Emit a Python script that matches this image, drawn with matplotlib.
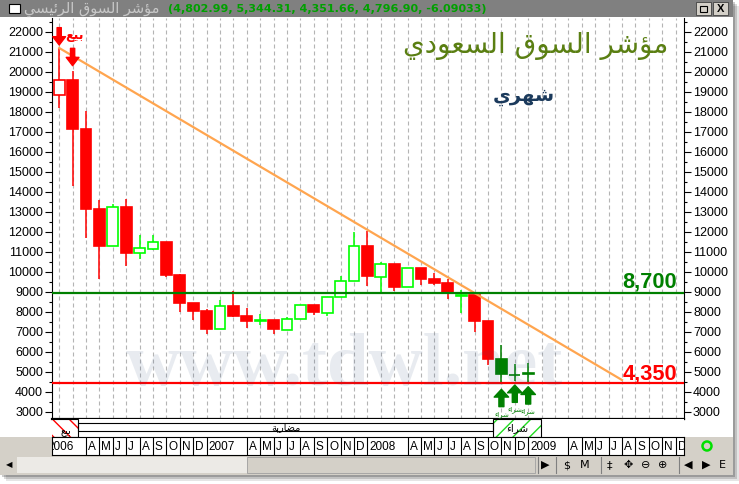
import matplotlib
matplotlib.use('Agg')
import matplotlib.pyplot as plt
import numpy as np
from matplotlib.patches import Rectangle, Circle
from matplotlib.ticker import MultipleLocator
from matplotlib import transforms

plt.rcParams['font.family'] = ['Liberation Sans', 'DejaVu Sans']
plt.rcParams['hatch.linewidth'] = 1.0

# monthly candles, Feb 2006 .. Jan 2009 (index 0 = Jan 2006)
month_idx = np.arange(1, 37)
opens = [18845, 19585, 17150, 13135, 11270, 13235, 10920, 11150, 11485, 9835,
         8435, 8035, 7120, 8285, 7770, 7540, 7585, 7085, 7635, 8320,
         7935, 8720, 9520, 11300, 9750, 10385, 9220, 10185, 9635, 9435,
         8800, 8835, 7535, 5650, 4840, 4910]
highs = [21185, 20035, 18050, 13585, 13400, 13635, 11835, 11850, 11485, 9885,
         8450, 8120, 8585, 9050, 8170, 7885, 7600, 7720, 8320, 8330,
         8720, 9785, 11970, 12035, 10470, 10400, 10170, 10200, 9950, 9635,
         9085, 8850, 7535, 6335, 5370, 5420]
lows = [18185, 14300, 11700, 9620, 11270, 10285, 10635, 11100, 9750, 8000,
        7585, 6885, 7120, 7720, 7200, 7335, 6900, 7085, 7635, 7850,
        7800, 8720, 9520, 9300, 8920, 9050, 9220, 9335, 9350, 8620,
        7920, 7000, 5350, 4370, 4550, 4500]
closes = [19585, 17150, 13135, 11300, 13220, 10950, 11170, 11485, 9850, 8450,
          8050, 7150, 8270, 7800, 7550, 7600, 7120, 7620, 8320, 7970,
          8720, 9520, 11270, 9800, 10385, 9250, 10170, 9650, 9450, 8920,
          8850, 7550, 5650, 4885, 4860, 4930]

trend_x = [1, 43]
trend_y = [21185, 4585]
resist_level, resist_label = 8920, '8,700'
support_level, support_label = 4450, '4,350'

sell_zone = (-1.0, 2.43)
spec_zone = (2.43, 33.39)
buy_zone = (33.39, 36.93)
sell_arrow_x = [1, 2]
sell_arrow_y = [21335, 20300]
buy_arrow_x = [34, 35, 36]
buy_arrow_y = [4120, 4335, 4250]

years = [2006, 2007, 2008, 2009]
month_letters = ['J', 'F', 'M', 'A', 'M', 'J', 'J', 'A', 'S', 'O', 'N', 'D']
date_labels = []
for yr in years:
    date_labels += [str(yr), '', ''] + month_letters[3:]

title_values = '(4,802.99, 5,344.31, 4,351.66, 4,796.90, -6.09033)'

# --- tiny arabic shaper (presentation forms + RTL) ---
FORMS = {
    '\u0621': ('\uFE80', None, None, None),
    '\u0624': ('\uFE85', '\uFE86', None, None),
    '\u0626': ('\uFE89', '\uFE8A', '\uFE8B', '\uFE8C'),
    '\u0627': ('\uFE8D', '\uFE8E', None, None),
    '\u0628': ('\uFE8F', '\uFE90', '\uFE91', '\uFE92'),
    '\u0629': ('\uFE93', '\uFE94', None, None),
    '\u062F': ('\uFEA9', '\uFEAA', None, None),
    '\u0631': ('\uFEAD', '\uFEAE', None, None),
    '\u0633': ('\uFEB1', '\uFEB2', '\uFEB3', '\uFEB4'),
    '\u0634': ('\uFEB5', '\uFEB6', '\uFEB7', '\uFEB8'),
    '\u0636': ('\uFEBD', '\uFEBE', '\uFEBF', '\uFEC0'),
    '\u0639': ('\uFEC9', '\uFECA', '\uFECB', '\uFECC'),
    '\u0642': ('\uFED5', '\uFED6', '\uFED7', '\uFED8'),
    '\u0644': ('\uFEDD', '\uFEDE', '\uFEDF', '\uFEE0'),
    '\u0645': ('\uFEE1', '\uFEE2', '\uFEE3', '\uFEE4'),
    '\u0647': ('\uFEE9', '\uFEEA', '\uFEEB', '\uFEEC'),
    '\u0648': ('\uFEED', '\uFEEE', None, None),
    '\u064A': ('\uFEF1', '\uFEF2', '\uFEF3', '\uFEF4'),
}


def ar(s):
    out = []
    for k, ch in enumerate(s):
        if ch not in FORMS:
            out.append(ch)
            continue
        prev = s[k - 1] if k > 0 else ''
        nxt = s[k + 1] if k + 1 < len(s) else ''
        f = FORMS[ch]
        jp = prev in FORMS and FORMS[prev][2] is not None
        jn = f[2] is not None and nxt in FORMS and FORMS[nxt][1] is not None
        if jp and jn:
            g = f[3]
        elif jp:
            g = f[1] or f[0]
        elif jn:
            g = f[2]
        else:
            g = f[0]
        out.append(g)
    return ''.join(reversed(out))


W, H = 739, 484
fig = plt.figure(figsize=(W / 100, H / 100), dpi=100)


def rect(x0, y0, x1, y1):
    return [x0 / W, 1 - y1 / H, (x1 - x0) / W, (y1 - y0) / H]


# background: window, shadow, gray rows
bg = fig.add_axes([0, 0, 1, 1], zorder=-1)
bg.set_xlim(0, W)
bg.set_ylim(H, 0)
bg.axis('off')
for off, a in [(6, 0.10), (4, 0.15), (2, 0.2)]:
    bg.add_patch(Rectangle((off, off), 733, 475, color='black', alpha=a, lw=0))
bg.add_patch(Rectangle((0, 0), 733, 475, color='white', lw=0))
bg.add_patch(Rectangle((0, 437), 52, 18, color='#D4D0C8', lw=0))
bg.add_patch(Rectangle((684, 437), 49, 18, color='#D4D0C8', lw=0))
bg.add_patch(Rectangle((0, 455), 733, 20, color='#D4D0C8', lw=0))

# main price axes
ax = fig.add_axes(rect(52, 18, 684, 419))
ax.set_xticks(np.arange(0, 48))
ax.set_yticks(np.arange(3000, 22001, 1000))
ax.set_xlim(0.463, 47.627)
ax.set_ylim(2635, 22685)
ax.tick_params(axis='x', bottom=False, labelbottom=False)
ax.grid(axis='x', color='#B4B4B4', linestyle=(0, (3.6, 2.7)), linewidth=0.8)
ax.yaxis.set_minor_locator(MultipleLocator(500))
ax.tick_params(axis='y', which='both', left=True, right=True,
               labelleft=True, labelright=True, direction='out',
               labelsize=9, pad=1.5, width=0.8)
ax.tick_params(axis='y', which='major', length=5)
ax.tick_params(axis='y', which='minor', length=2.5)
ax.spines['top'].set_visible(False)
ax.spines['bottom'].set_linewidth(1.6)

RED, GREEN, DKGREEN = '#FF0000', '#00FF00', '#008000'
bw = 0.82
for x, o, h, l, c in zip(month_idx, opens, highs, lows, closes):
    if sell_zone[0] < x < sell_zone[1]:
        col = RED
    elif buy_zone[0] < x < buy_zone[1]:
        col = DKGREEN
    else:
        col = RED if c < o else GREEN
    lo, hi = min(o, c), max(o, c)
    ax.vlines(x, hi, h, color=col, lw=1.1, zorder=2)
    ax.vlines(x, l, lo, color=col, lw=1.1, zorder=2)
    ax.add_patch(Rectangle((x - bw / 2, lo), bw, hi - lo,
                           facecolor=col if c < o else 'white',
                           edgecolor=col, lw=1.2, zorder=2))

ax.plot(trend_x, trend_y, color='#FFA54F', lw=1.6, zorder=3)
ax.axhline(resist_level, color=DKGREEN, lw=1.6, zorder=3)
ax.axhline(support_level, color=RED, lw=1.6, zorder=3)
ax.annotate(resist_label, (1, resist_level), xycoords=('axes fraction', 'data'),
            xytext=(-5, 4.3), textcoords='offset points', ha='right', va='baseline',
            color=DKGREEN, fontsize=15.7, fontweight='bold', zorder=4)
ax.annotate(support_label, (1, support_level), xycoords=('axes fraction', 'data'),
            xytext=(-5, 2.4), textcoords='offset points', ha='right', va='baseline',
            color=RED, fontsize=15.7, fontweight='bold', zorder=4)

for x, y in zip(sell_arrow_x, sell_arrow_y):
    ax.annotate('', xy=(x, y), xytext=(0, 12.5), textcoords='offset points',
                arrowprops=dict(arrowstyle='simple,head_length=0.75,head_width=1.15,tail_width=0.38',
                                color=RED, mutation_scale=8, shrinkA=0, shrinkB=0), zorder=5)
ax.annotate(ar('بيع'), xy=(sell_arrow_x[0], sell_arrow_y[0]), xytext=(10.7, 6.5),
            textcoords='offset points', ha='center', va='center', color=RED,
            fontsize=9, fontweight='bold', family='DejaVu Sans', zorder=5)
for x, y in zip(buy_arrow_x, buy_arrow_y):
    ax.annotate('', xy=(x, y), xytext=(0, -12.5), textcoords='offset points',
                arrowprops=dict(arrowstyle='simple,head_length=0.7,head_width=1.3,tail_width=0.45',
                                color=DKGREEN, mutation_scale=8, shrinkA=0, shrinkB=0), zorder=5)
    ax.annotate(ar('شراء'), xy=(x, y), xytext=(0, -18), textcoords='offset points',
                ha='center', va='center', color=DKGREEN, fontsize=5,
                family='DejaVu Sans', zorder=5, annotation_clip=False, clip_on=True)

ax.text(0.462, 0.085, 'www.tdwl.net', transform=ax.transAxes, ha='center',
        va='baseline', fontsize=54, fontweight='bold', family='Liberation Serif',
        color='#2F4F7F', alpha=0.11, zorder=6)

fig.text(536 / W, 1 - 46 / H, ar('مؤشر السوق السعودي'), ha='center', va='center',
         fontsize=20, color='#5A7F12', family='DejaVu Sans')
fig.text(524 / W, 1 - 96 / H, ar('شهري'), ha='center', va='center',
         fontsize=14, color='#1B3A5C', fontweight='bold', family='DejaVu Sans')

# signal strip
ax_strip = fig.add_axes(rect(52, 419, 684, 437), sharex=ax)
ax_strip.set_ylim(0, 1)
ax_strip.tick_params(bottom=False, labelbottom=False, left=False, labelleft=False)
for s in ax_strip.spines.values():
    s.set_visible(False)
ax_strip.add_patch(Rectangle((sell_zone[0], 0), sell_zone[1] - sell_zone[0], 1,
                             fill=False, hatch='\\\\', edgecolor=RED, lw=0))
ax_strip.add_patch(Rectangle((sell_zone[0], 0), sell_zone[1] - sell_zone[0], 1,
                             fill=False, edgecolor='black', lw=0.8))
ax_strip.text(1.5, 0.3, ar('بيع'), ha='center', va='center', fontsize=7,
              family='DejaVu Sans', clip_on=True)
ax_strip.add_patch(Rectangle((spec_zone[0], 0.35), spec_zone[1] - spec_zone[0], 0.41,
                             fill=False, edgecolor='black', lw=0.8))
ax_strip.text(sum(spec_zone) / 2, 0.55, ar('مضاربة'), ha='center', va='center',
              fontsize=7, family='DejaVu Sans')
ax_strip.add_patch(Rectangle((buy_zone[0], 0), buy_zone[1] - buy_zone[0], 1,
                             fill=False, hatch='//', edgecolor='#22DD22', lw=0))
ax_strip.add_patch(Rectangle((buy_zone[0], 0), buy_zone[1] - buy_zone[0], 1,
                             fill=False, edgecolor='black', lw=0.8))
ax_strip.text(sum(buy_zone) / 2, 0.5, ar('شراء'), ha='center', va='center',
              fontsize=7.5, family='DejaVu Sans')

# date row
ax_date = fig.add_axes(rect(52, 437, 684, 455), sharex=ax)
ax_date.set_ylim(0, 1)
ax_date.tick_params(bottom=False, labelbottom=False, left=False, labelleft=False)
for s in ax_date.spines.values():
    s.set_linewidth(0.8)
lab_tr = transforms.offset_copy(ax_date.transData, fig=fig, x=2, y=0, units='dots')
for i, lab in enumerate(date_labels):
    if lab:
        ax_date.vlines(i, 0, 1, color='black', lw=0.8)
        ax_date.text(i, 0.47, lab, transform=lab_tr, ha='left', va='center',
                     fontsize=8.5, clip_on=True)

# window chrome on top
fg = fig.add_axes([0, 0, 1, 1], zorder=5)
fg.set_xlim(0, W)
fg.set_ylim(H, 0)
fg.axis('off')
fg.add_patch(Rectangle((0, 0), 733, 17, color='#808080', lw=0))
fg.add_patch(Rectangle((9, 4), 11, 9, facecolor='white', edgecolor='black', lw=0.8))
fg.text(92, 9, ar('مؤشر السوق الرئيسي'), ha='center', va='center', fontsize=10.5,
        color='#C8C8C8', family='DejaVu Sans')
fg.text(168, 9.5, title_values, ha='left', va='center', fontsize=8,
        fontweight='bold', color='#00A000', family='DejaVu Sans')
for bx in (696, 713):
    fg.add_patch(Rectangle((bx, 2), 15, 13, facecolor='#D4D0C8', edgecolor='#404040', lw=0.6))
fg.add_patch(Rectangle((700, 6), 7, 6, fill=False, edgecolor='black', lw=0.8))
fg.text(720.5, 9, 'X', ha='center', va='center', fontsize=8, fontweight='bold')

fg.add_patch(Rectangle((17, 457), 230, 16, color='#ECEAE6', lw=0))
fg.add_patch(Rectangle((247, 457), 288, 16, facecolor='#D4D0C8', edgecolor='#A0A0A0', lw=0.6))
fg.text(9, 465, '\u25C0', ha='center', va='center', fontsize=6, family='DejaVu Sans')
for sx in (538, 556, 601, 679):
    fg.plot([sx, sx], [457, 473], color='#808080', lw=0.8)
for gx, g in [(545, '\u25B6'), (567, '$'), (585, 'M'), (609, '\u2021'),
              (628, '\u2725'), (646, '\u2296'), (663, '\u2295'),
              (688, '\u25C0'), (706, '\u25B6'), (722, 'E')]:
    fg.text(gx, 465, g, ha='center', va='center', fontsize=8, family='DejaVu Sans')
fg.add_patch(Circle((707, 446), 4.5, fill=False, edgecolor='#00E000', lw=1.8))

fig.savefig('out.png', dpi=100)
